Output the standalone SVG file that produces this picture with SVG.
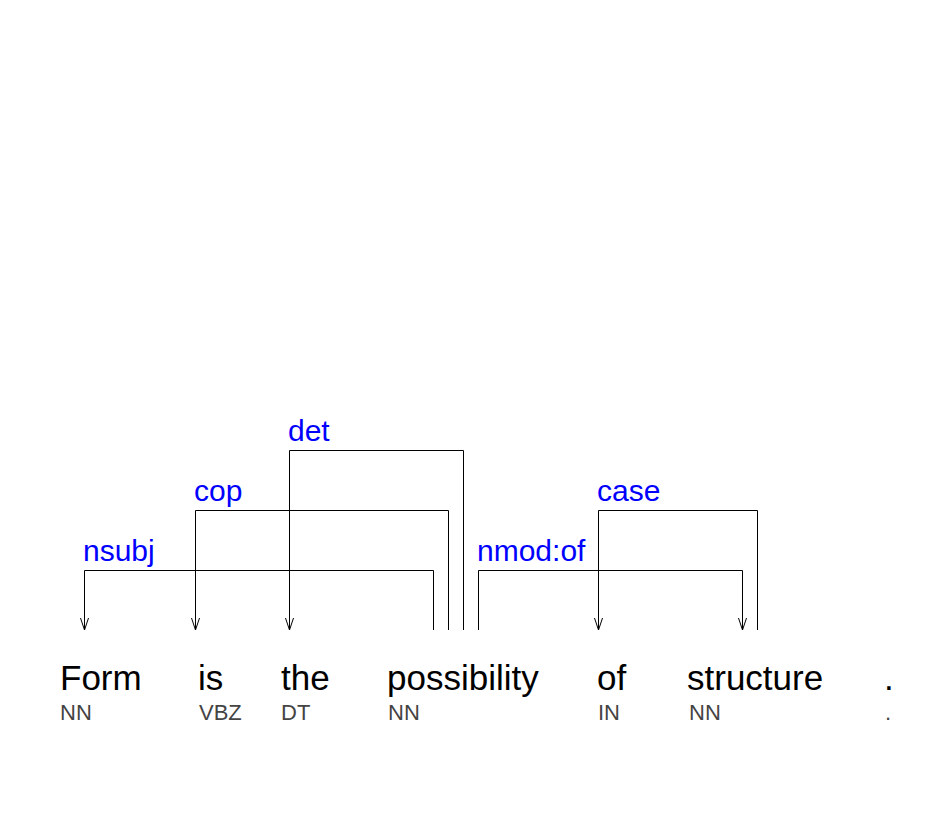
<svg xmlns="http://www.w3.org/2000/svg" width="949" height="840" viewBox="0 0 949 840">
<style>
.w{font-family:"Liberation Sans",Arial,sans-serif;font-size:35px;fill:#000}
.p{font-family:"Liberation Sans",Arial,sans-serif;font-size:22px;fill:#444}
.l{font-family:"Liberation Sans",Arial,sans-serif;font-size:30px;fill:#0000ff}
.e{fill:none;stroke:#000;stroke-width:1}
</style>
<rect width="949" height="840" fill="#fff"/>
<g id="w1"><text class="w" x="60" y="690">Form</text><text class="p" x="60" y="720">NN</text></g>
<g id="w2"><text class="w" x="198" y="690">is</text><text class="p" x="199" y="720">VBZ</text></g>
<g id="w3"><text class="w" x="281" y="690">the</text><text class="p" x="281" y="720">DT</text></g>
<g id="w4"><text class="w" x="387" y="690">possibility</text><text class="p" x="388" y="720">NN</text></g>
<g id="w5"><text class="w" x="597" y="690">of</text><text class="p" x="598" y="720">IN</text></g>
<g id="w6"><text class="w" x="687" y="690">structure</text><text class="p" x="689" y="720">NN</text></g>
<g id="w7"><text class="w" x="884" y="690">.</text><text class="p" x="885" y="720">.</text></g>
<g id="edges">
<g id="e-nsubj"><path class="e" d="M433.5,630 V570.5 H84.5 V630 M80.5,618 L84.5,630 L88.5,618"/><text class="l" x="83" y="561">nsubj</text></g>
<g id="e-cop"><path class="e" d="M448.5,630 V510.5 H195.5 V630 M191.5,618 L195.5,630 L199.5,618"/><text class="l" x="194" y="501">cop</text></g>
<g id="e-det"><path class="e" d="M463.5,630 V450.5 H289.5 V630 M285.5,618 L289.5,630 L293.5,618"/><text class="l" x="288" y="441">det</text></g>
<g id="e-nmod"><path class="e" d="M478.5,630 V570.5 H742.5 V630 M738.5,618 L742.5,630 L746.5,618"/><text class="l" x="477" y="561">nmod:of</text></g>
<g id="e-case"><path class="e" d="M757.5,630 V510.5 H598.5 V630 M594.5,618 L598.5,630 L602.5,618"/><text class="l" x="597" y="501">case</text></g>
</g>
</svg>
